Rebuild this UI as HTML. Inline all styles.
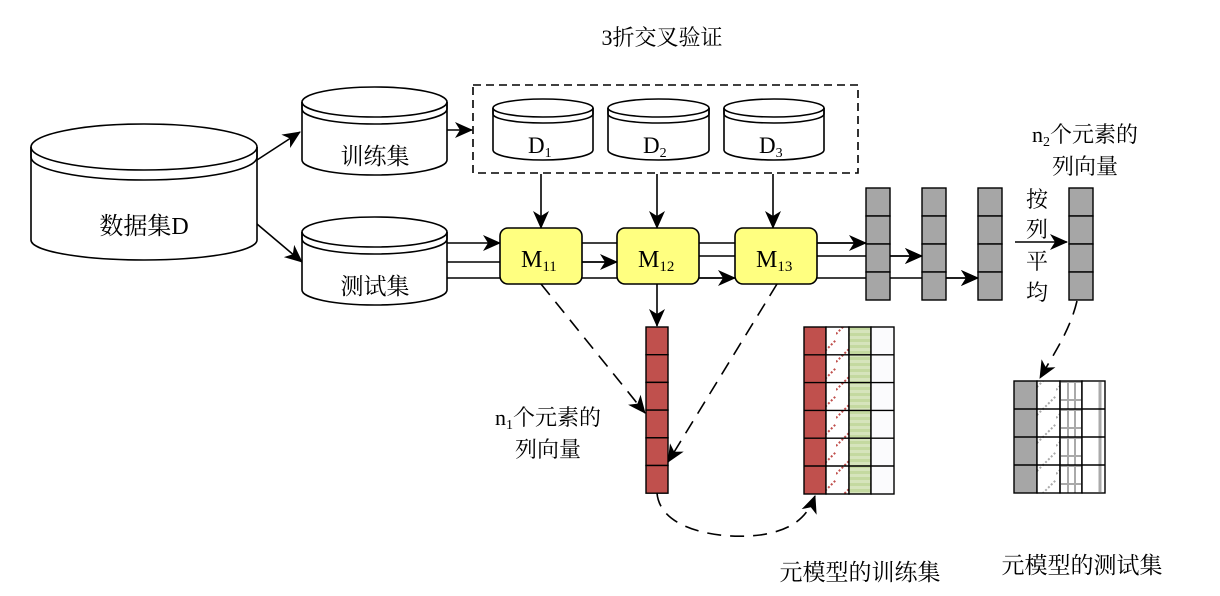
<!DOCTYPE html>
<html><head><meta charset="utf-8"><style>
html,body{margin:0;padding:0;background:#fff;}
svg{display:block;}
text{font-family:"Liberation Serif","Noto Serif CJK SC","Noto Sans CJK SC",serif;fill:#000;}
</style></head><body>
<svg width="1220" height="596" viewBox="0 0 1220 596" xmlns="http://www.w3.org/2000/svg">
<defs>
<marker id="ahb" markerWidth="18" markerHeight="18" refX="17" refY="9" orient="auto" markerUnits="userSpaceOnUse" viewBox="0 0 18 18">
<path d="M0,1 L18,9 L0,17 L5,9 Z" fill="#000"/>
</marker>
<pattern id="redDiag" width="22" height="28" patternUnits="userSpaceOnUse">
<rect width="22" height="28" fill="#fff"/>
<line x1="0" y1="26" x2="22" y2="4" stroke="#c0504d" stroke-width="2" stroke-dasharray="2,2"/>
</pattern>
<pattern id="green" width="22" height="6" patternUnits="userSpaceOnUse">
<rect width="22" height="6" fill="#d6e4bc"/>
<rect y="3" width="22" height="3" fill="#c4d9a0"/>
</pattern>
<pattern id="grayDiag" width="22" height="28" patternUnits="userSpaceOnUse">
<rect width="22" height="28" fill="#fff"/>
<line x1="0" y1="26" x2="22" y2="4" stroke="#aaa" stroke-width="2" stroke-dasharray="2,2"/>
</pattern>
<pattern id="grid" width="22" height="28" patternUnits="userSpaceOnUse">
<rect width="22" height="28" fill="#fff"/>
<line x1="4" y1="0" x2="4" y2="28" stroke="#aaa" stroke-width="2"/>
<line x1="12" y1="0" x2="12" y2="28" stroke="#aaa" stroke-width="2"/>
<line x1="19" y1="0" x2="19" y2="28" stroke="#aaa" stroke-width="2"/>
<line x1="0" y1="8" x2="22" y2="8" stroke="#aaa" stroke-width="2"/>
<line x1="0" y1="18" x2="22" y2="18" stroke="#aaa" stroke-width="2"/>
</pattern>
</defs>

<text x="662" y="45" font-size="22" text-anchor="middle">3折交叉验证</text>

<g fill="#fff" stroke="#000" stroke-width="1.6">
<path d="M31,147 L31,240 A113,20 0 0 0 257,240 L257,147"/>
<ellipse cx="144" cy="147" rx="113" ry="23"/>
<path d="M31,147 L31,157 A113,23 0 0 0 257,157 L257,147" fill="none"/>
<path d="M302,102 L302,160 A72.5,15 0 0 0 447,160 L447,102"/>
<ellipse cx="374.5" cy="102" rx="72.5" ry="15"/>
<path d="M302,102 L302,109 A72.5,15 0 0 0 447,109 L447,102" fill="none"/>
<path d="M302,232 L302,290 A72.5,15 0 0 0 447,290 L447,232"/>
<ellipse cx="374.5" cy="232" rx="72.5" ry="15"/>
<path d="M302,232 L302,239 A72.5,15 0 0 0 447,239 L447,232" fill="none"/>
<path d="M493,108 L493,150 A50,10 0 0 0 593,150 L593,108"/>
<ellipse cx="543" cy="108" rx="50" ry="9"/>
<path d="M493,108 L493,114 A50,9 0 0 0 593,114 L593,108" fill="none"/>
<path d="M608,108 L608,150 A50.5,10 0 0 0 709,150 L709,108"/>
<ellipse cx="658.5" cy="108" rx="50.5" ry="9"/>
<path d="M608,108 L608,114 A50.5,9 0 0 0 709,114 L709,108" fill="none"/>
<path d="M724,108 L724,150 A50,10 0 0 0 824,150 L824,108"/>
<ellipse cx="774" cy="108" rx="50" ry="9"/>
<path d="M724,108 L724,114 A50,9 0 0 0 824,114 L824,108" fill="none"/>
</g>
<text x="144" y="234" font-size="24" text-anchor="middle">数据集D</text>
<text x="375" y="164" font-size="23" text-anchor="middle">训练集</text>
<text x="375" y="294" font-size="23" text-anchor="middle">测试集</text>
<text x="528" y="153" font-size="23">D<tspan font-size="14" dy="4">1</tspan></text>
<text x="643" y="153" font-size="23">D<tspan font-size="14" dy="4">2</tspan></text>
<text x="759" y="153" font-size="23">D<tspan font-size="14" dy="4">3</tspan></text>

<rect x="473" y="85" width="385" height="88" fill="none" stroke="#000" stroke-width="1.6" stroke-dasharray="8,5"/>

<g stroke="#000" stroke-width="1.6" fill="none">
<line x1="257" y1="160" x2="300" y2="132" marker-end="url(#ahb)"/>
<line x1="257" y1="224" x2="302" y2="262" marker-end="url(#ahb)"/>
<line x1="447" y1="130" x2="472" y2="130" marker-end="url(#ahb)"/>
<line x1="541" y1="174" x2="541" y2="228" marker-end="url(#ahb)"/>
<line x1="657" y1="174" x2="657" y2="228" marker-end="url(#ahb)"/>
<line x1="773" y1="174" x2="773" y2="228" marker-end="url(#ahb)"/>
<line x1="447" y1="243" x2="500" y2="243" marker-end="url(#ahb)"/>
<line x1="447" y1="262" x2="617" y2="262"/>
<line x1="447" y1="278" x2="735" y2="278"/>
<line x1="582" y1="262" x2="617" y2="262" marker-end="url(#ahb)"/>
<line x1="582" y1="243" x2="866" y2="243"/>
<line x1="699" y1="278" x2="735" y2="278" marker-end="url(#ahb)"/>
<line x1="817" y1="243" x2="866" y2="243" marker-end="url(#ahb)"/>
<line x1="699" y1="256" x2="922" y2="256" marker-end="url(#ahb)"/>
<line x1="817" y1="278" x2="978" y2="278" marker-end="url(#ahb)"/>
<line x1="657" y1="284" x2="657" y2="326" marker-end="url(#ahb)"/>
<line x1="1015" y1="242" x2="1067" y2="242" marker-end="url(#ahb)"/>
</g>

<g fill="#ffff80" stroke="#000" stroke-width="1.6">
<rect x="500" y="228" width="82" height="56" rx="8"/>
<rect x="617" y="228" width="82" height="56" rx="8"/>
<rect x="735" y="228" width="82" height="56" rx="8"/>
</g>
<text x="521" y="267" font-size="24">M<tspan font-size="15" dy="4">11</tspan></text>
<text x="638" y="267" font-size="24">M<tspan font-size="15" dy="4">12</tspan></text>
<text x="756" y="267" font-size="24">M<tspan font-size="15" dy="4">13</tspan></text>

<g fill="#a6a6a6" stroke="#000" stroke-width="1.4">
<rect x="866" y="188" width="24" height="28"/><rect x="866" y="216" width="24" height="28"/><rect x="866" y="244" width="24" height="28"/><rect x="866" y="272" width="24" height="28"/>
<rect x="922" y="188" width="24" height="28"/><rect x="922" y="216" width="24" height="28"/><rect x="922" y="244" width="24" height="28"/><rect x="922" y="272" width="24" height="28"/>
<rect x="978" y="188" width="24" height="28"/><rect x="978" y="216" width="24" height="28"/><rect x="978" y="244" width="24" height="28"/><rect x="978" y="272" width="24" height="28"/>
<rect x="1069" y="188" width="24" height="28"/><rect x="1069" y="216" width="24" height="28"/><rect x="1069" y="244" width="24" height="28"/><rect x="1069" y="272" width="24" height="28"/>
</g>
<g stroke="#000" stroke-width="1.6" fill="none">
<line x1="890" y1="256" x2="922" y2="256" marker-end="url(#ahb)"/>
<line x1="946" y1="278" x2="978" y2="278" marker-end="url(#ahb)"/>
</g>
<text x="1037" y="207" font-size="22" text-anchor="middle">按</text>
<text x="1037" y="237" font-size="22" text-anchor="middle">列</text>
<text x="1037" y="269" font-size="22" text-anchor="middle">平</text>
<text x="1037" y="300" font-size="22" text-anchor="middle">均</text>
<text x="1085" y="142" font-size="22" text-anchor="middle">n<tspan font-size="14" dy="4">2</tspan><tspan dy="-4">个元素的</tspan></text>
<text x="1085" y="174" font-size="22" text-anchor="middle">列向量</text>

<g fill="#c0504d" stroke="#000" stroke-width="1.4">
<rect x="646" y="327" width="22" height="27.7"/><rect x="646" y="354.7" width="22" height="27.7"/><rect x="646" y="382.4" width="22" height="27.7"/><rect x="646" y="410.1" width="22" height="27.7"/><rect x="646" y="437.8" width="22" height="27.7"/><rect x="646" y="465.5" width="22" height="27.7"/>
</g>
<text x="548" y="425" font-size="22" text-anchor="middle">n<tspan font-size="14" dy="4">1</tspan><tspan dy="-4">个元素的</tspan></text>
<text x="548" y="457" font-size="22" text-anchor="middle">列向量</text>

<g stroke="#000" stroke-width="1.6" fill="none" stroke-dasharray="14,9">
<line x1="541" y1="284" x2="645" y2="413" marker-end="url(#ahb)"/>
<line x1="777" y1="284" x2="668" y2="462" marker-end="url(#ahb)"/>
<path d="M657,493 C660,530 720,540 760,535 C795,530 808,515 815,496" marker-end="url(#ahb)"/>
<path d="M1077,301 C1070,330 1055,352 1040,378" marker-end="url(#ahb)"/>
</g>

<g stroke="#000" stroke-width="1.4">
<rect x="804" y="327" width="22" height="167" fill="#c0504d"/>
<rect x="826" y="327" width="23" height="167" fill="url(#redDiag)"/>
<rect x="849" y="327" width="22" height="167" fill="url(#green)"/>
<rect x="871" y="327" width="23" height="167" fill="#fbfbfd"/>
<g fill="none">
<line x1="804" y1="354.8" x2="894" y2="354.8"/><line x1="804" y1="382.6" x2="894" y2="382.6"/><line x1="804" y1="410.4" x2="894" y2="410.4"/><line x1="804" y1="438.2" x2="894" y2="438.2"/><line x1="804" y1="466" x2="894" y2="466"/>
</g>
</g>
<g stroke="#000" stroke-width="1.4">
<rect x="1014" y="381" width="23" height="112" fill="#a6a6a6"/>
<rect x="1037" y="381" width="23" height="112" fill="url(#grayDiag)"/>
<rect x="1060" y="381" width="22" height="112" fill="url(#grid)"/>
<rect x="1082" y="381" width="23" height="112" fill="#fff"/>
<line x1="1100" y1="382" x2="1100" y2="492" stroke="#aaa" stroke-width="3"/>
<g fill="none">
<line x1="1014" y1="409" x2="1105" y2="409"/><line x1="1014" y1="437" x2="1105" y2="437"/><line x1="1014" y1="465" x2="1105" y2="465"/>
</g>
</g>

<text x="860" y="580" font-size="23" text-anchor="middle">元模型的训练集</text>
<text x="1082" y="573" font-size="23" text-anchor="middle">元模型的测试集</text>
</svg>
</body></html>
